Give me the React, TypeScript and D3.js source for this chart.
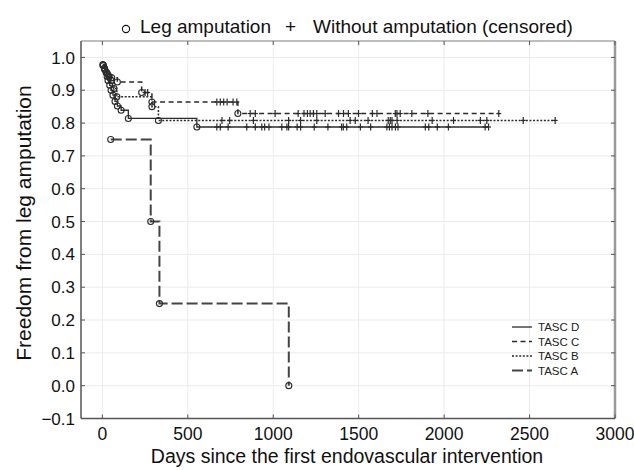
import { useEffect, useRef } from 'react';
import * as d3 from 'd3';

// axis ticks
const xTicks = [0, 500, 1000, 1500, 2000, 2500, 3000];
const yTicks = [-0.1, 0, 0.1, 0.2, 0.3, 0.4, 0.5, 0.6, 0.7, 0.8, 0.9, 1.0];

// TASC D (solid)
const tascDDays = [6, 13, 22, 28, 33, 43, 51, 62, 74, 88, 110, 152, 553];
const tascDSurv = [0.976, 0.966, 0.954, 0.942, 0.93, 0.915, 0.9, 0.885, 0.866, 0.852, 0.839, 0.814, 0.788];
const tascDCensored = [670, 690, 736, 845, 895, 933, 950, 975, 1050, 1080, 1090, 1140, 1160, 1240, 1320, 1400, 1410, 1430,
  1510, 1570, 1665, 1680, 1695, 1715, 1730, 1890, 1910, 1960, 2025, 2240, 2260];

// TASC C (dashed)
const tascCDays = [4, 14, 30, 55, 88, 230, 290, 793];
const tascCSurv = [0.975, 0.963, 0.95, 0.938, 0.925, 0.893, 0.864, 0.829];
const tascCCensored = [250, 265, 670, 690, 710, 730, 765, 787, 865, 895, 1011, 1146, 1180, 1200, 1216, 1235, 1255, 1304,
  1382, 1411, 1440, 1499, 1580, 1607, 1714, 1724, 1743, 1811, 1905, 2320];

// TASC B (dotted)
const tascBDays = [3, 12, 24, 38, 52, 68, 85, 290, 328];
const tascBSurv = [0.978, 0.967, 0.955, 0.943, 0.93, 0.905, 0.88, 0.85, 0.808];
const tascBCensored = [700, 745, 884, 1090, 1160, 1255, 1450, 1480, 1555, 1673, 1685, 1695, 1725, 1930, 2055, 2212,
  2250, 2463, 2650];

// TASC A (long dashes)
const tascADays = [49, 283, 334, 1091];
const tascASurv = [0.75, 0.5, 0.25, 0.0];
const tascACensored: number[] = [];

const seriesNames = ['TASC D', 'TASC C', 'TASC B', 'TASC A'];

const FONT = "'Liberation Sans', Arial, sans-serif";
const INK = '#2b2b2b';

export default function App() {
  const svgRef = useRef<SVGSVGElement>(null);

  useEffect(() => {
    const width = 634;
    const height = 470;
    const margin = { left: 81, right: 19, top: 41, bottom: 51.5 };

    const svg = d3.select(svgRef.current);
    svg.selectAll('*').remove();
    svg.attr('width', width).attr('height', height);

    const x = d3.scaleLinear().domain([-125, 3000]).range([margin.left, width - margin.right]);
    const y = d3.scaleLinear().domain([-0.1, 1.05]).range([height - margin.bottom, margin.top]);

    const x0 = x.range()[0], x1 = x.range()[1];
    const y0 = y.range()[0], y1 = y.range()[1];

    // grid
    const grid = svg.append('g').attr('stroke', '#ebebeb').attr('stroke-width', 1);
    grid.selectAll('.gx').data(xTicks).enter().append('line')
      .attr('x1', d => x(d)).attr('x2', d => x(d)).attr('y1', y1).attr('y2', y0);
    grid.selectAll('.gy').data(yTicks).enter().append('line')
      .attr('x1', x0).attr('x2', x1).attr('y1', d => y(d)).attr('y2', d => y(d));

    // frame
    svg.append('line').attr('x1', x0).attr('x2', x1).attr('y1', y1).attr('y2', y1)
      .attr('stroke', '#a8a8a8').attr('stroke-width', 1.5);
    svg.append('line').attr('x1', x1).attr('x2', x1).attr('y1', y1).attr('y2', y0)
      .attr('stroke', '#999').attr('stroke-width', 2.5);
    svg.append('line').attr('x1', x0).attr('x2', x0).attr('y1', y1).attr('y2', y0)
      .attr('stroke', '#555').attr('stroke-width', 1.5);
    svg.append('line').attr('x1', x0).attr('x2', x1).attr('y1', y0).attr('y2', y0)
      .attr('stroke', '#555').attr('stroke-width', 1.5);

    // inward ticks
    const ticks = svg.append('g').attr('stroke', '#555').attr('stroke-width', 1);
    xTicks.forEach(t => {
      ticks.append('line').attr('x1', x(t)).attr('x2', x(t)).attr('y1', y0).attr('y2', y0 - 4);
      ticks.append('line').attr('x1', x(t)).attr('x2', x(t)).attr('y1', y1).attr('y2', y1 + 4);
    });
    yTicks.forEach(t => {
      ticks.append('line').attr('x1', x0).attr('x2', x0 + 4).attr('y1', y(t)).attr('y2', y(t));
      ticks.append('line').attr('x1', x1).attr('x2', x1 - 4).attr('y1', y(t)).attr('y2', y(t));
    });

    // tick labels
    svg.selectAll('.xl').data(xTicks).enter().append('text')
      .attr('x', d => x(d)).attr('y', 440)
      .attr('text-anchor', 'middle')
      .style('font-family', FONT).style('font-size', '17.5px').attr('fill', '#111')
      .text(d => d);
    const fmt = d3.format('.1f');
    svg.selectAll('.yl').data(yTicks).enter().append('text')
      .attr('x', 75).attr('y', d => y(d)).attr('dy', '0.36em')
      .attr('text-anchor', 'end')
      .style('font-family', FONT).style('font-size', '17px').attr('fill', '#111')
      .text(d => fmt(d));

    // axis titles
    svg.append('text').attr('x', 347).attr('y', 463).attr('text-anchor', 'middle')
      .style('font-family', FONT).style('font-size', '19.5px').attr('fill', '#111')
      .text('Days since the first endovascular intervention');
    svg.append('text').attr('transform', 'translate(31,223) rotate(-90)').attr('text-anchor', 'middle')
      .style('font-family', FONT).style('font-size', '21px').attr('fill', '#111')
      .text('Freedom from leg amputation');

    // top legend
    svg.append('circle').attr('cx', 126).attr('cy', 29).attr('r', 3.6)
      .attr('fill', 'none').attr('stroke', '#111').attr('stroke-width', 1.1);
    svg.append('text').attr('x', 140).attr('y', 33)
      .style('font-family', FONT).style('font-size', '19px').attr('fill', '#111')
      .text('Leg amputation');
    svg.append('text').attr('x', 285).attr('y', 33)
      .style('font-family', FONT).style('font-size', '19px').attr('fill', '#111')
      .text('+');
    svg.append('text').attr('x', 313).attr('y', 33)
      .style('font-family', FONT).style('font-size', '19px').attr('fill', '#111')
      .text('Without amputation (censored)');

    // curves
    const series = [
      { name: seriesNames[0], days: tascDDays, surv: tascDSurv, cens: tascDCensored, dash: null, w: 1.3, color: INK },
      { name: seriesNames[1], days: tascCDays, surv: tascCSurv, cens: tascCCensored, dash: '5,3.5', w: 1.5, color: INK },
      { name: seriesNames[2], days: tascBDays, surv: tascBSurv, cens: tascBCensored, dash: '2,1.6', w: 1.5, color: INK },
      { name: seriesNames[3], days: tascADays, surv: tascASurv, cens: tascACensored, dash: '11,4', w: 2, color: '#444' },
    ];

    const line = d3.line<[number, number]>()
      .x(d => x(d[0])).y(d => y(d[1]))
      .curve(d3.curveStepAfter);

    const survAt = (days: number[], surv: number[], t: number) => {
      let s = surv[0];
      days.forEach((d, i) => { if (d <= t) s = surv[i]; });
      return s;
    };

    const plot = svg.append('g');
    series.forEach(s => {
      const pts: [number, number][] = s.days.map((d, i) => [d, s.surv[i]]);
      const lastT = d3.max([...s.days, ...s.cens]) as number;
      if (lastT > s.days[s.days.length - 1]) pts.push([lastT, s.surv[s.surv.length - 1]]);

      plot.append('path')
        .attr('d', line(pts))
        .attr('fill', 'none')
        .attr('stroke', s.color)
        .attr('stroke-width', s.w)
        .attr('stroke-dasharray', s.dash);

      // censored
      const cg = plot.append('g').attr('stroke', INK).attr('stroke-width', 1.2);
      s.cens.forEach(t => {
        const cx = x(t), cy = y(survAt(s.days, s.surv, t));
        cg.append('line').attr('x1', cx).attr('x2', cx).attr('y1', cy - 3.5).attr('y2', cy + 3.5);
        cg.append('line').attr('x1', cx - 2.5).attr('x2', cx + 2.5).attr('y1', cy).attr('y2', cy);
      });

      // events
      plot.selectAll(null).data(pts.slice(0, s.days.length)).enter().append('circle')
        .attr('cx', d => x(d[0])).attr('cy', d => y(d[1])).attr('r', 3)
        .attr('fill', 'none').attr('stroke', INK).attr('stroke-width', 1.1);
    });

    // series legend
    const legend = svg.append('g');
    series.forEach((s, i) => {
      const ly = 327 + i * 14.5;
      legend.append('line').attr('x1', 512).attr('x2', 532).attr('y1', ly).attr('y2', ly)
        .attr('stroke', s.color).attr('stroke-width', s.w).attr('stroke-dasharray', s.dash);
      legend.append('text').attr('x', 538).attr('y', ly).attr('dy', '0.36em')
        .style('font-family', FONT).style('font-size', '11.5px').attr('fill', '#222')
        .text(s.name);
    });
  }, []);

  return (
    <div style={{ position: 'absolute', left: 0, top: 0 }}>
      <svg ref={svgRef}></svg>
    </div>
  );
}
